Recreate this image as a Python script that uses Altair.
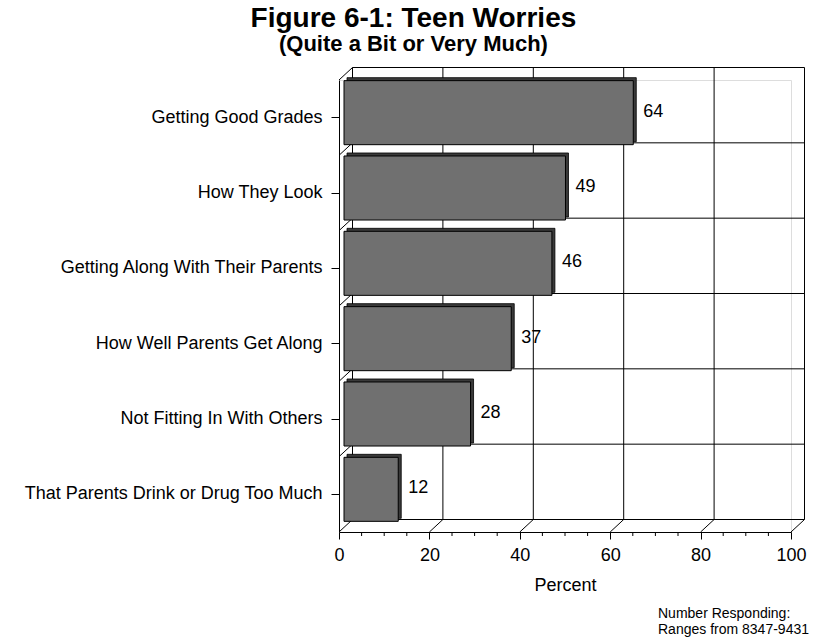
import altair as alt
import pandas as pd

# ---- data -------------------------------------------------------------
categories = [
    "Getting Good Grades",
    "How They Look",
    "Getting Along With Their Parents",
    "How Well Parents Get Along",
    "Not Fitting In With Others",
    "That Parents Drink or Drug Too Much",
]
percents = [64, 49, 46, 37, 28, 12]
major_ticks = [0, 20, 40, 60, 80, 100]
minor_ticks = [5, 10, 15, 25, 30, 35, 45, 50, 55, 65, 70, 75, 85, 90, 95]
footnote = ["Number Responding:", "Ranges from 8347-9431"]

# ---- geometry of the pseudo-3D frame ---------------------------------
W = H = 452            # front plane of the plot
DX, DY = 13.5, -12.5   # depth of the back wall
FX, FY = 5, -5         # front face of the bars sits a little behind the front plane
BX, BY = 3, -3         # thickness of the bars
FONT = "Liberation Sans"

bars_df = pd.DataFrame({"item": categories, "pct": percents})
grid_df = pd.DataFrame({"v": major_ticks})
minor_df = pd.DataFrame({"v": minor_ticks})
one_row = pd.DataFrame({"k": [0]})

x_scale = alt.Scale(domain=[0, 100], nice=False, zero=True)
y_scale = alt.Scale(domain=categories, paddingInner=0, paddingOuter=0)

x_axis = alt.Axis(
    values=major_ticks, title="Percent", titleFontSize=18, titleFontWeight="normal",
    titleColor="black", titlePadding=12, labelFontSize=18, labelPadding=7,
    labelColor="black", tickSize=7, tickColor="black", domainColor="black",
    grid=False, labelFlush=False,
)
y_axis = alt.Axis(
    title=None, labelFontSize=18, labelPadding=9, labelColor="black", labelLimit=400,
    tickSize=8, tickColor="black", domainColor="black", grid=False,
)


def xf(field):
    return alt.X(field, type="quantitative", scale=x_scale, axis=x_axis)


def yf(band_pos=None):
    if band_pos is None:
        return alt.Y("item:N", scale=y_scale, sort=categories, axis=y_axis)
    return alt.Y("item:N", scale=y_scale, sort=categories, axis=y_axis, bandPosition=band_pos)


line = dict(color="black", strokeWidth=1)

# back wall: horizontal lines at the category boundaries
back_h = alt.Chart(bars_df).mark_rule(xOffset=DX, x2Offset=DX, yOffset=DY, **line).encode(
    y=yf(0),
    x=alt.XDatum(0, type="quantitative", scale=x_scale, axis=x_axis),
    x2=alt.X2Datum(100),
)
back_floor = alt.Chart(one_row).mark_rule(xOffset=DX, x2Offset=DX, yOffset=DY, **line).encode(
    y=alt.value(H),
    x=alt.XDatum(0, type="quantitative", scale=x_scale, axis=x_axis),
    x2=alt.X2Datum(100),
)
# back wall: vertical grid lines
back_v = alt.Chart(grid_df).mark_rule(xOffset=DX, yOffset=DY, y2Offset=DY, **line).encode(
    x=xf("v"), y=alt.value(0), y2=alt.value(H)
)
# floor: receding lines from each major tick
floor_diag = alt.Chart(grid_df).mark_rule(x2Offset=DX, y2Offset=DY, **line).encode(
    x=xf("v"), x2=alt.X2("v"), y=alt.value(H), y2=alt.value(H)
)
# left wall: receding lines from each category boundary
wall_diag = alt.Chart(bars_df).mark_rule(x2Offset=DX, y2Offset=DY, **line).encode(
    y=yf(0),
    y2=alt.Y2("item", bandPosition=0),
    x=alt.XDatum(0, type="quantitative", scale=x_scale, axis=x_axis),
    x2=alt.X2Datum(0),
)

# bars: dark depth block behind a lighter front face
bar_depth = alt.Chart(bars_df).mark_bar(
    color="#3a3a3a", stroke="black", strokeWidth=0.8, height={"band": 0.85},
    xOffset=FX + BX, x2Offset=FX + BX, yOffset=FY + BY, y2Offset=FY + BY,
).encode(x=xf("pct"), y=yf())
bar_face = alt.Chart(bars_df).mark_bar(
    color="#707070", stroke="black", strokeWidth=1, height={"band": 0.85},
    xOffset=FX, x2Offset=FX, yOffset=FY, y2Offset=FY,
).encode(x=xf("pct"), y=yf())

labels = alt.Chart(bars_df).mark_text(
    align="left", baseline="middle", dx=FX + 10, dy=-6, fontSize=18, font=FONT, color="black"
).encode(x=xf("pct"), y=yf(), text=alt.Text("pct:Q"))

minor = alt.Chart(minor_df).mark_rule(**line).encode(
    x=xf("v"), y=alt.value(H), y2=alt.value(H + 4)
)

note = alt.Chart(one_row).mark_text(
    align="left", baseline="middle", fontSize=14, lineHeight=16, font=FONT,
    color="black", text=footnote,
).encode(x=alt.value(319), y=alt.value(534))

chart = alt.layer(
    back_h, back_floor, back_v, floor_diag, wall_diag, bar_depth, bar_face, labels, minor, note
).properties(
    width=W,
    height=H,
    autosize=alt.AutoSizeParams(type="none"),
    padding={"left": 339, "top": 80, "right": 32, "bottom": 111},
    title=alt.TitleParams(
        text="Figure 6-1: Teen Worries",
        subtitle="(Quite a Bit or Very Much)",
        fontSize=28, subtitleFontSize=22, fontWeight="bold", subtitleFontWeight="bold",
        color="black", subtitleColor="black", font=FONT, subtitleFont=FONT,
        anchor="middle", frame="bounds", offset=12, subtitlePadding=1, dx=-3,
    ),
).configure_view(stroke=None).configure(font=FONT, background="white")

chart.save("out.html", embed_options={"renderer": "svg", "actions": False})
